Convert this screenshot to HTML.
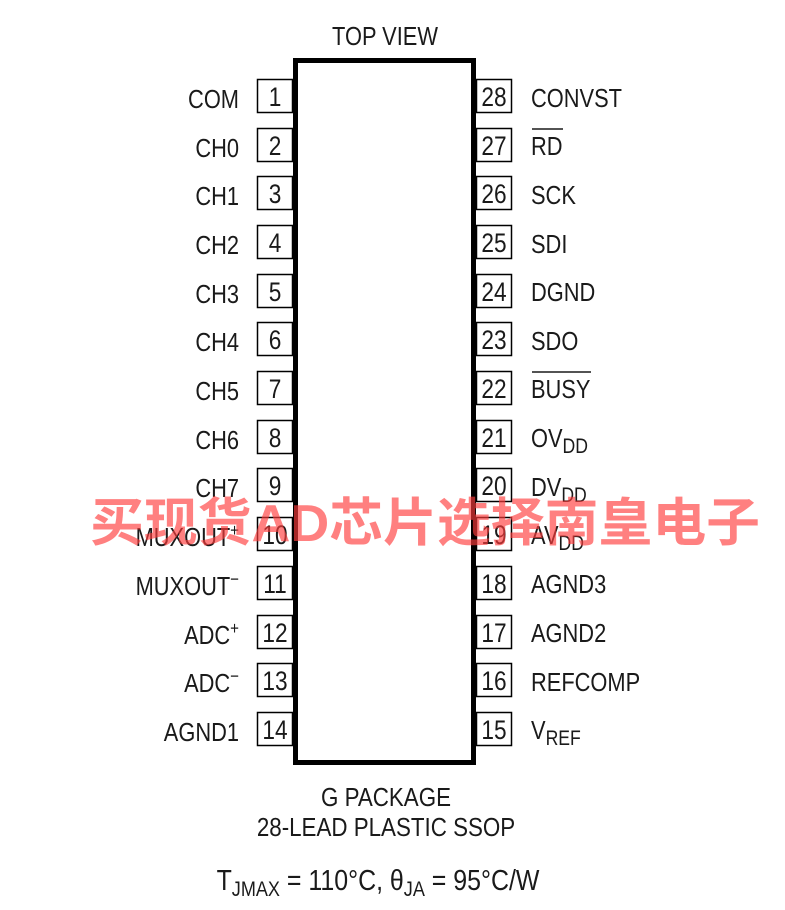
<!DOCTYPE html>
<html><head><meta charset="utf-8"><style>
html,body{margin:0;padding:0;background:#fff;}
svg{display:block;}
text{font-family:"Liberation Sans",sans-serif;fill:#1a1a1a;}
</style></head><body>
<svg width="785" height="910" viewBox="0 0 785 910" xmlns="http://www.w3.org/2000/svg">
<g font-size="26">
<text transform="translate(385,45) scale(0.84,1)" text-anchor="middle">TOP VIEW</text>
</g>
<rect x="295.5" y="60.5" width="178" height="702" fill="#fff" stroke="#000" stroke-width="5"/>
<g fill="#fff" stroke="#000" stroke-width="1.5">
<rect x="257.5" y="79.5" width="35" height="33"/><rect x="257.5" y="128.5" width="35" height="33"/>
<rect x="257.5" y="176.5" width="35" height="33"/><rect x="257.5" y="225.5" width="35" height="33"/>
<rect x="257.5" y="274.5" width="35" height="33"/><rect x="257.5" y="322.5" width="35" height="33"/>
<rect x="257.5" y="371.5" width="35" height="33"/><rect x="257.5" y="420.5" width="35" height="33"/>
<rect x="257.5" y="468.5" width="35" height="33"/><rect x="257.5" y="517.5" width="35" height="33"/>
<rect x="257.5" y="566.5" width="35" height="33"/><rect x="257.5" y="615.5" width="35" height="33"/>
<rect x="257.5" y="663.5" width="35" height="33"/><rect x="257.5" y="712.5" width="35" height="33"/>
<rect x="476.5" y="79.5" width="35" height="33"/><rect x="476.5" y="128.5" width="35" height="33"/>
<rect x="476.5" y="176.5" width="35" height="33"/><rect x="476.5" y="225.5" width="35" height="33"/>
<rect x="476.5" y="274.5" width="35" height="33"/><rect x="476.5" y="322.5" width="35" height="33"/>
<rect x="476.5" y="371.5" width="35" height="33"/><rect x="476.5" y="420.5" width="35" height="33"/>
<rect x="476.5" y="468.5" width="35" height="33"/><rect x="476.5" y="517.5" width="35" height="33"/>
<rect x="476.5" y="566.5" width="35" height="33"/><rect x="476.5" y="615.5" width="35" height="33"/>
<rect x="476.5" y="663.5" width="35" height="33"/><rect x="476.5" y="712.5" width="35" height="33"/>
</g>
<g font-size="27" text-anchor="middle">
<text transform="translate(275,106) scale(0.84,1)">1</text>
<text transform="translate(275,155) scale(0.84,1)">2</text>
<text transform="translate(275,203) scale(0.84,1)">3</text>
<text transform="translate(275,252) scale(0.84,1)">4</text>
<text transform="translate(275,301) scale(0.84,1)">5</text>
<text transform="translate(275,349) scale(0.84,1)">6</text>
<text transform="translate(275,398) scale(0.84,1)">7</text>
<text transform="translate(275,447) scale(0.84,1)">8</text>
<text transform="translate(275,495) scale(0.84,1)">9</text>
<text transform="translate(275,544) scale(0.84,1)">10</text>
<text transform="translate(275,593) scale(0.84,1)">11</text>
<text transform="translate(275,642) scale(0.84,1)">12</text>
<text transform="translate(275,690) scale(0.84,1)">13</text>
<text transform="translate(275,739) scale(0.84,1)">14</text>
<text transform="translate(494,106) scale(0.84,1)">28</text>
<text transform="translate(494,155) scale(0.84,1)">27</text>
<text transform="translate(494,203) scale(0.84,1)">26</text>
<text transform="translate(494,252) scale(0.84,1)">25</text>
<text transform="translate(494,301) scale(0.84,1)">24</text>
<text transform="translate(494,349) scale(0.84,1)">23</text>
<text transform="translate(494,398) scale(0.84,1)">22</text>
<text transform="translate(494,447) scale(0.84,1)">21</text>
<text transform="translate(494,495) scale(0.84,1)">20</text>
<text transform="translate(494,544) scale(0.84,1)">19</text>
<text transform="translate(494,593) scale(0.84,1)">18</text>
<text transform="translate(494,642) scale(0.84,1)">17</text>
<text transform="translate(494,690) scale(0.84,1)">16</text>
<text transform="translate(494,739) scale(0.84,1)">15</text>
</g>
<g font-size="26" text-anchor="end">
<text transform="translate(239,108) scale(0.84,1)">COM</text>
<text transform="translate(239,157) scale(0.84,1)">CH0</text>
<text transform="translate(239,205) scale(0.84,1)">CH1</text>
<text transform="translate(239,254) scale(0.84,1)">CH2</text>
<text transform="translate(239,303) scale(0.84,1)">CH3</text>
<text transform="translate(239,351) scale(0.84,1)">CH4</text>
<text transform="translate(239,400) scale(0.84,1)">CH5</text>
<text transform="translate(239,449) scale(0.84,1)">CH6</text>
<text transform="translate(239,497) scale(0.84,1)">CH7</text>
<text transform="translate(239,546) scale(0.84,1)">MUXOUT<tspan font-size="18" dy="-10">+</tspan></text>
<text transform="translate(239,595) scale(0.84,1)">MUXOUT<tspan font-size="18" dy="-10">−</tspan></text>
<text transform="translate(239,644) scale(0.84,1)">ADC<tspan font-size="18" dy="-10">+</tspan></text>
<text transform="translate(239,692) scale(0.84,1)">ADC<tspan font-size="18" dy="-10">−</tspan></text>
<text transform="translate(239,741) scale(0.84,1)">AGND1</text>
</g>
<g font-size="26">
<text transform="translate(531,107) scale(0.84,1)">CONVST</text>
<text transform="translate(531,155) scale(0.84,1)">RD</text>
<text transform="translate(531,204) scale(0.84,1)">SCK</text>
<text transform="translate(531,253) scale(0.84,1)">SDI</text>
<text transform="translate(531,301) scale(0.84,1)">DGND</text>
<text transform="translate(531,350) scale(0.84,1)">SDO</text>
<text transform="translate(531,398) scale(0.84,1)">BUSY</text>
<text transform="translate(531,447) scale(0.84,1)">OV<tspan font-size="21" dy="6">DD</tspan></text>
<text transform="translate(531,496) scale(0.84,1)">DV<tspan font-size="21" dy="6">DD</tspan></text>
<text transform="translate(531,544) scale(0.84,1)">AV<tspan font-size="21" dy="6">DD</tspan></text>
<text transform="translate(531,593) scale(0.84,1)">AGND3</text>
<text transform="translate(531,642) scale(0.84,1)">AGND2</text>
<text transform="translate(531,691) scale(0.84,1)">REFCOMP</text>
<text transform="translate(531,739) scale(0.84,1)">V<tspan font-size="21" dy="6">REF</tspan></text>
</g>
<line x1="532" y1="129" x2="563" y2="129" stroke="#1a1a1a" stroke-width="1.5"/>
<line x1="532" y1="372" x2="591" y2="372" stroke="#1a1a1a" stroke-width="1.5"/>
<g font-size="26" text-anchor="middle">
<text transform="translate(386,806) scale(0.86,1)">G PACKAGE</text>
<text transform="translate(386,836) scale(0.86,1)">28-LEAD PLASTIC SSOP</text>
</g>
<text transform="translate(378,890) scale(0.86,1)" font-size="29" text-anchor="middle">T<tspan font-size="21" dy="6">JMAX</tspan><tspan dy="-6"> = 110°C, θ</tspan><tspan font-size="21" dy="6">JA</tspan><tspan dy="-6"> = 95°C/W</tspan></text>
<text x="425" y="541" font-size="52" font-weight="bold" text-anchor="middle" style="font-family:'Liberation Sans','Noto Sans CJK SC',sans-serif;fill:rgba(255,60,60,0.65)" textLength="670" lengthAdjust="spacingAndGlyphs">买现货AD芯片选择南皇电子</text>
</svg>
</body></html>
